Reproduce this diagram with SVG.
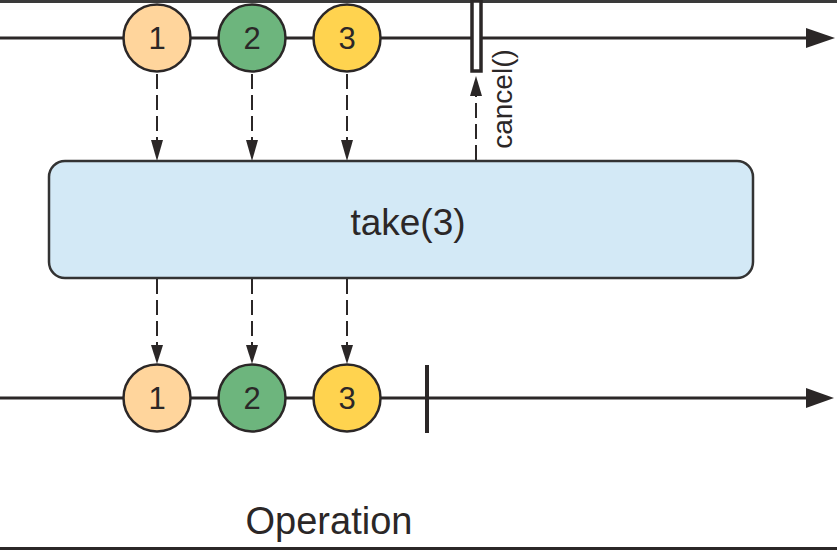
<svg xmlns="http://www.w3.org/2000/svg" width="837" height="550" viewBox="0 0 837 550">
<defs>
<style>
.tl{stroke:#2b2727;stroke-width:3;fill:none}
.dash{stroke:#2b2727;stroke-width:2;stroke-dasharray:15 6;fill:none}
.num{font-family:"Liberation Sans",Arial,sans-serif;font-size:31px;fill:#2b2727;text-anchor:middle}
.lbl{font-family:"Liberation Sans",Arial,sans-serif;fill:#2b2727}
.ah{fill:#2b2727}
.c1{fill:#FFD59C}
.c2{fill:#6DB57D}
.c3{fill:#FFD34F}
.node{stroke:#2b2727;stroke-width:2.5}
</style>
</defs>
<rect x="0" y="0" width="837" height="550" fill="#ffffff"/>
<rect x="0" y="0" width="837" height="3" fill="#3a3a3a"/>
<rect x="0" y="547" width="837" height="3" fill="#2b2727"/>
<g id="connectors">
<line class="tl" x1="0" y1="38" x2="808" y2="38"/>
<path class="ah" d="M806,28 L835,38 L806,48 Z"/>
<line class="tl" x1="0" y1="398" x2="808" y2="398"/>
<path class="ah" d="M806,388 L834,398 L806,408 Z"/>
<line class="dash" x1="157" y1="74" x2="157" y2="142"/>
<path class="ah" d="M151,140 L163,140 L157,161 Z"/>
<line class="dash" x1="252" y1="74" x2="252" y2="142"/>
<path class="ah" d="M246,140 L258,140 L252,161 Z"/>
<line class="dash" x1="347" y1="74" x2="347" y2="142"/>
<path class="ah" d="M341,140 L353,140 L347,161 Z"/>
<line class="dash" x1="157" y1="279" x2="157" y2="347"/>
<path class="ah" d="M151,345 L163,345 L157,364 Z"/>
<line class="dash" x1="252" y1="279" x2="252" y2="347"/>
<path class="ah" d="M246,345 L258,345 L252,364 Z"/>
<line class="dash" x1="347" y1="279" x2="347" y2="347"/>
<path class="ah" d="M341,345 L353,345 L347,364 Z"/>
<line class="dash" x1="476" y1="160" x2="476" y2="93"/>
<path class="ah" d="M470,96 L482,96 L476,76 Z"/>
</g>
<g id="cancel-marker">
<rect x="472" y="1" width="9" height="70" fill="#ffffff" stroke="#2b2727" stroke-width="3.5"/>
<text class="lbl" font-size="28" text-anchor="middle" transform="translate(512,99) rotate(-90)">cancel()</text>
</g>
<g id="complete-marker">
<line x1="427" y1="365" x2="427" y2="433" stroke="#2b2727" stroke-width="4"/>
</g>
<g id="op-take">
<rect x="49" y="161" width="704" height="117" rx="16" ry="16" fill="#D3E9F6" stroke="#333" stroke-width="2.5"/>
<text class="lbl" x="408" y="235" font-size="37" text-anchor="middle">take(3)</text>
</g>
<g id="in-1"><circle class="c1 node" cx="157" cy="38" r="33.5"/><text class="num" x="157" y="49">1</text></g>
<g id="in-2"><circle class="c2 node" cx="252" cy="38" r="33.5"/><text class="num" x="252" y="49">2</text></g>
<g id="in-3"><circle class="c3 node" cx="347" cy="38" r="33.5"/><text class="num" x="347" y="49">3</text></g>
<g id="out-1"><circle class="c1 node" cx="157" cy="398" r="33.5"/><text class="num" x="157" y="409">1</text></g>
<g id="out-2"><circle class="c2 node" cx="252" cy="398" r="33.5"/><text class="num" x="252" y="409">2</text></g>
<g id="out-3"><circle class="c3 node" cx="347" cy="398" r="33.5"/><text class="num" x="347" y="409">3</text></g>
<g id="caption">
<text class="lbl" x="329" y="534" font-size="38" text-anchor="middle">Operation</text>
</g>
</svg>
